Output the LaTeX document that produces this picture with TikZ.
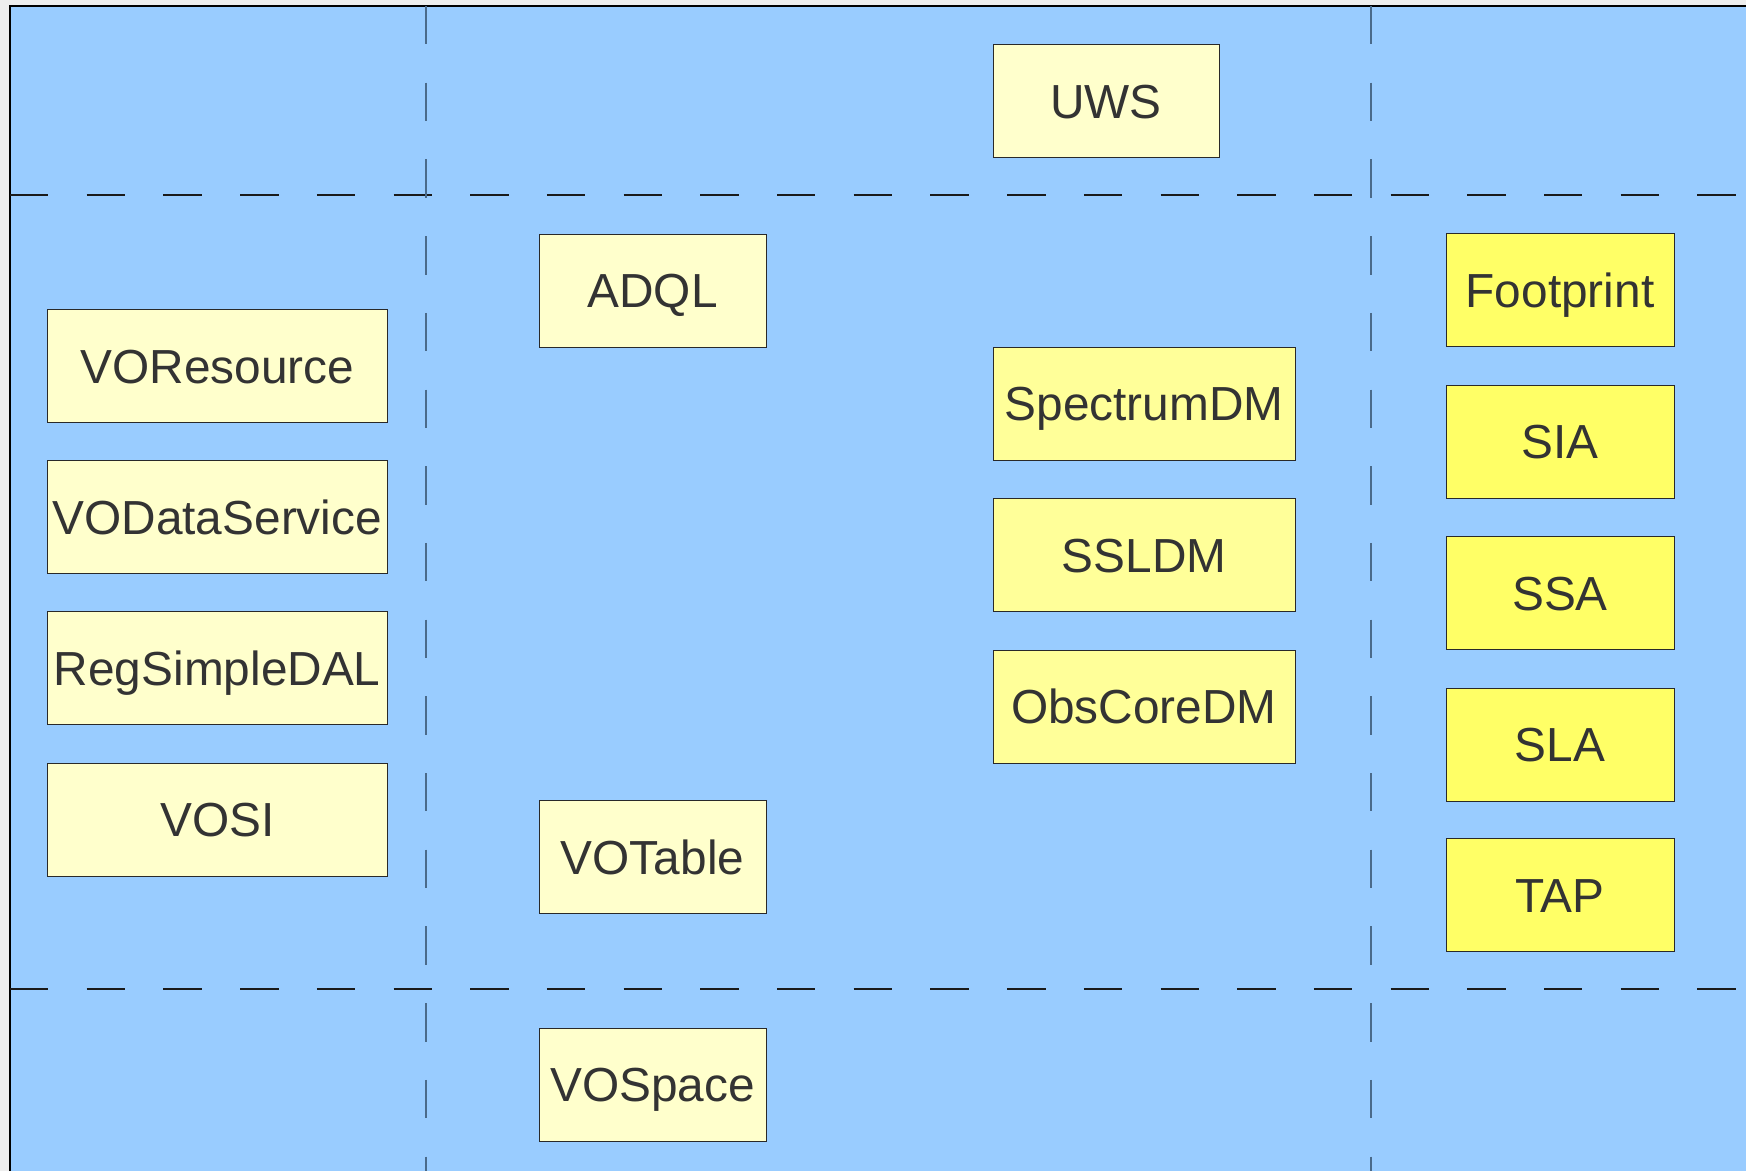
\documentclass[tikz,border=0pt]{standalone}
\usepackage{fontspec}
\setmainfont{Liberation Sans}
\definecolor{bgblue}{HTML}{99CCFF}
\definecolor{pagegray}{HTML}{EEEEEE}
\definecolor{paleY}{HTML}{FFFFCC}
\definecolor{midY}{HTML}{FFFF99}
\definecolor{strongY}{HTML}{FFFF66}
\definecolor{txt}{HTML}{333333}
\definecolor{vline}{HTML}{4A6A8A}
\definecolor{hline}{HTML}{1A1A1A}
\begin{document}
\begin{tikzpicture}[x=1pt,y=-1pt,
  box/.style={draw=txt!80!black, line width=1pt, inner sep=0pt, outer sep=0pt,
    anchor=north west, minimum height=113pt, text=txt,
    text height=34.2pt, text depth=0pt,
    font=\fontsize{47.8}{56}\selectfont},
  wsmall/.style={minimum width=227pt},
  wmid/.style={minimum width=302pt},
  wwide/.style={minimum width=340.5pt},
  hdash/.style={draw=hline, line width=1.3pt, dash pattern=on 38.4pt off 38.3pt},
  vdash/.style={draw=vline, line width=1.6pt, dash pattern=on 38.4pt off 38.3pt}]
\useasboundingbox (0,0) rectangle (1746,1171);
\fill[pagegray] (0,0) rectangle (1746,1171);
\fill[bgblue] (10,6) rectangle (1746,1171);
\draw[black, line width=1.2pt] (10,1171) -- (10,6) -- (1746,6);
% dashed grid
\coordinate (h1a) at (10,195); \coordinate (h1b) at (1746,195);
\coordinate (h2a) at (10,989); \coordinate (h2b) at (1746,989);
\coordinate (v1a) at (426,6); \coordinate (v1b) at (426,1171);
\coordinate (v2a) at (1371,6); \coordinate (v2b) at (1371,1171);
\draw[hdash] (h1a) -- (h1b);
\draw[hdash] (h2a) -- (h2b);
\draw[vdash] (v1a) -- (v1b);
\draw[vdash] (v2a) -- (v2b);
% column 1
\node[box, wwide, fill=paleY] (voresource) at (47,309.5) {VOResource};
\node[box, wwide, fill=paleY] (vodataservice) at (47,460.5) {VODataService};
\node[box, wwide, fill=paleY] (regsimpledal) at (47,611.5) {RegSimpleDAL};
\node[box, wwide, fill=paleY] (vosi) at (47,763) {VOSI};
% column 2
\node[box, wsmall, fill=paleY] (adql) at (539,234) {ADQL};
\node[box, wsmall, fill=paleY] (votable) at (539,800.5) {VOTable};
\node[box, wsmall, fill=paleY] (vospace) at (539,1028) {VOSpace};
% top
\node[box, wsmall, fill=paleY, minimum width=226pt] (uws) at (993,44.5) {UWS};
% column 3
\node[box, wmid, fill=midY] (spectrumdm) at (993,347) {SpectrumDM};
\node[box, wmid, fill=midY] (ssldm) at (993,498.5) {SSLDM};
\node[box, wmid, fill=midY] (obscoredm) at (993,650) {ObsCoreDM};
% column 4
\node[box, minimum width=228pt, fill=strongY] (footprint) at (1446,233.5) {Footprint};
\node[box, minimum width=228pt, fill=strongY] (sia) at (1446,385) {SIA};
\node[box, minimum width=228pt, fill=strongY] (ssa) at (1446,536.5) {SSA};
\node[box, minimum width=228pt, fill=strongY] (sla) at (1446,688) {SLA};
\node[box, minimum width=228pt, fill=strongY] (tap) at (1446,838.5) {TAP};
\end{tikzpicture}
\end{document}
